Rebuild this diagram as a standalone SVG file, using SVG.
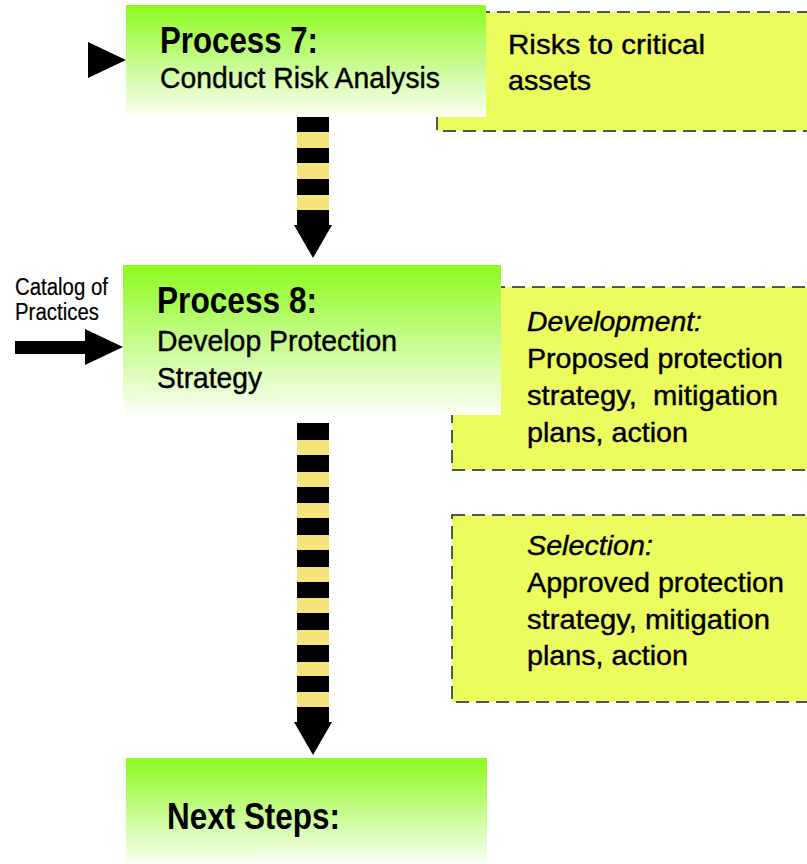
<svg xmlns="http://www.w3.org/2000/svg" width="807" height="864" viewBox="0 0 807 864">
  <defs>
    <linearGradient id="greenFade" x1="0" y1="0" x2="0" y2="1">
      <stop offset="0" stop-color="#8dfb1f"/>
      <stop offset="0.5" stop-color="#c4fb8a"/>
      <stop offset="1" stop-color="#fbfff5"/>
    </linearGradient>
    <style>
      .proc { fill: url(#greenFade); }
      .note { fill: #ecfc5e; stroke: #555; stroke-width: 2; stroke-dasharray: 13 7; }
      .t { font-family: "Liberation Sans", Arial, sans-serif; fill: #000; }
      .h { font-weight: bold; font-size: 36px; }
      .b { font-size: 29px; stroke: #000; stroke-width: 0.4; }
      .n { font-size: 28px; stroke: #000; stroke-width: 0.4; }
      .i { font-style: italic; }
      .s { font-size: 23px; stroke: #000; stroke-width: 0.2; }
      .shaft { fill: #f5e47c; }
      .band { fill: #000; }
      .head { fill: #000; }
    </style>
  </defs>

  <rect width="807" height="864" fill="#fff"/>

  <!-- output notes (drawn first so the process boxes sit over them) -->
  <g id="note-risks">
    <rect class="note" x="437" y="12" width="380" height="119"/>
    <text class="t n" x="508" y="54" textLength="197" lengthAdjust="spacingAndGlyphs">Risks to critical</text>
    <text class="t n" x="508" y="90" textLength="83" lengthAdjust="spacingAndGlyphs">assets</text>
  </g>

  <g id="note-development">
    <rect class="note" x="452" y="287" width="365" height="183"/>
    <text class="t n i" x="527" y="331" textLength="175" lengthAdjust="spacingAndGlyphs">Development:</text>
    <text class="t n" x="527" y="368" textLength="256" lengthAdjust="spacingAndGlyphs">Proposed protection</text>
    <text class="t n" x="527" y="405" textLength="251" lengthAdjust="spacingAndGlyphs" xml:space="preserve">strategy,  mitigation</text>
    <text class="t n" x="527" y="442" textLength="161" lengthAdjust="spacingAndGlyphs">plans, action</text>
  </g>

  <g id="note-selection">
    <rect class="note" x="452" y="515" width="365" height="187"/>
    <text class="t n i" x="527" y="555" textLength="126" lengthAdjust="spacingAndGlyphs">Selection:</text>
    <text class="t n" x="527" y="592" textLength="257" lengthAdjust="spacingAndGlyphs">Approved protection</text>
    <text class="t n" x="527" y="629" textLength="243" lengthAdjust="spacingAndGlyphs">strategy, mitigation</text>
    <text class="t n" x="527" y="665" textLength="161" lengthAdjust="spacingAndGlyphs">plans, action</text>
  </g>

  <!-- process steps -->
  <g id="process-7">
    <rect class="proc" x="126" y="5" width="360" height="112"/>
    <text class="t h" x="160" y="53" textLength="158" lengthAdjust="spacingAndGlyphs">Process 7:</text>
    <text class="t b" x="160" y="88" textLength="280" lengthAdjust="spacingAndGlyphs">Conduct Risk Analysis</text>
  </g>

  <g id="process-8">
    <rect class="proc" x="123" y="265" width="378" height="150"/>
    <text class="t h" x="157" y="313" textLength="160" lengthAdjust="spacingAndGlyphs">Process 8:</text>
    <text class="t b" x="157" y="351" textLength="240" lengthAdjust="spacingAndGlyphs">Develop Protection</text>
    <text class="t b" x="157" y="388" textLength="105" lengthAdjust="spacingAndGlyphs">Strategy</text>
  </g>

  <g id="next-steps">
    <rect class="proc" x="126" y="758" width="361" height="106"/>
    <text class="t h" x="167" y="829" textLength="173" lengthAdjust="spacingAndGlyphs">Next Steps:</text>
  </g>

  <g id="catalog-label">
    <text class="t s" x="15" y="295" textLength="93" lengthAdjust="spacingAndGlyphs">Catalog of</text>
    <text class="t s" x="15" y="320" textLength="84" lengthAdjust="spacingAndGlyphs">Practices</text>
  </g>

  <!-- connectors -->
  <g id="connectors">
    <!-- input into process 7 -->
    <polygon class="head" points="88,42 126,60 88,78"/>

    <!-- catalog of practices into process 8 -->
    <rect class="head" x="15" y="341" width="72" height="13"/>
    <polygon class="head" points="85,329 123,347 85,365"/>

    <!-- process 7 to process 8 -->
    <g id="flow-7-8">
      <rect class="shaft" x="297" y="117" width="32" height="108"/>
      <rect class="band" x="297" y="117" width="32" height="15"/>
      <rect class="band" x="297" y="148" width="32" height="15"/>
      <rect class="band" x="297" y="179" width="32" height="16"/>
      <rect class="band" x="297" y="210" width="32" height="16"/>
      <polygon class="head" points="294,225 332,225 313,258"/>
    </g>

    <!-- process 8 to next steps -->
    <g id="flow-8-next">
      <rect class="shaft" x="297" y="423" width="32" height="300"/>
      <rect class="band" x="297" y="423" width="32" height="17"/>
      <rect class="band" x="297" y="455" width="32" height="17"/>
      <rect class="band" x="297" y="487" width="32" height="16"/>
      <rect class="band" x="297" y="518" width="32" height="17"/>
      <rect class="band" x="297" y="550" width="32" height="17"/>
      <rect class="band" x="297" y="582" width="32" height="16"/>
      <rect class="band" x="297" y="613" width="32" height="17"/>
      <rect class="band" x="297" y="645" width="32" height="17"/>
      <rect class="band" x="297" y="676" width="32" height="16"/>
      <rect class="band" x="297" y="707" width="32" height="16"/>
      <polygon class="head" points="294,722 332,722 313,755"/>
    </g>
  </g>
</svg>
